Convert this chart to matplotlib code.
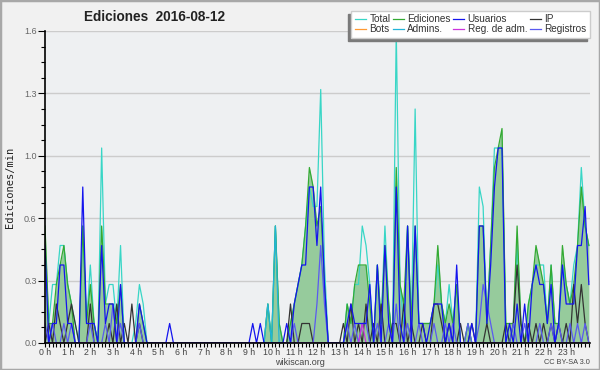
import matplotlib
matplotlib.use("Agg")
import matplotlib.pyplot as plt
from matplotlib.patches import Rectangle
from matplotlib.lines import Line2D
import numpy as np

plt.rcParams['font.family'] = ['Liberation Sans', 'DejaVu Sans']

# edits per 10-minute bin, 0 h .. 24 h (145 points)
ediciones = [6, 1, 1, 3, 4, 5,  3, 2, 0, 0, 6, 1,  3, 1, 0, 6, 2, 2,  2, 1, 3, 0, 0, 0,
             0, 2, 1, 0, 0, 0,  0, 0, 0, 0, 0, 0] + [0] * 18 + \
            [0, 0, 0, 0, 0, 2,  0, 6, 1, 0, 0, 1,  2, 3, 4, 6, 9, 8,  6, 7, 3, 0, 0, 0,
             0, 0, 2, 1, 3, 4,  4, 4, 2, 0, 4, 1,  5, 2, 0, 9, 3, 2,  6, 1, 6, 1, 1, 1,
             1, 2, 5, 2, 1, 2,  1, 3, 0, 0, 1, 0,  0, 6, 6, 1, 5, 9,  10, 11, 1, 1, 1, 6,
             1, 0, 2, 3, 5, 4,  3, 1, 4, 1, 1, 5,  3, 2, 3, 5, 8, 6,  5]
total = [5, 1, 3, 3, 5, 5,  3, 2, 1, 0, 6, 1,  4, 1, 0, 10, 2, 3,  3, 1, 5, 0, 0, 0,
         1, 3, 2, 0, 0, 0,  0, 0, 0, 0, 0, 0] + [0] * 18 + \
        [0, 0, 0, 0, 0, 2,  0, 6, 1, 0, 0, 1,  2, 3, 4, 6, 8, 7,  7, 13, 4, 0, 0, 0,
         0, 0, 2, 1, 3, 3,  6, 5, 3, 0, 4, 1,  6, 2, 0, 16, 3, 1,  6, 1, 12, 1, 1, 1,
         1, 2, 4, 2, 1, 3,  1, 3, 0, 0, 1, 0,  0, 8, 7, 1, 5, 10,  10, 10, 1, 0, 1, 5,
         1, 0, 2, 3, 4, 4,  4, 1, 4, 1, 1, 4,  3, 2, 4, 5, 9, 6,  5]
usuarios = [5, 0, 1, 1, 4, 4,  1, 1, 0, 0, 8, 1,  1, 1, 0, 5, 1, 2,  2, 0, 3, 0, 0, 0,
            0, 2, 1, 0, 0, 0,  0, 0, 0, 1, 0, 0] + [0] * 18 + \
           [0, 1, 0, 1, 0, 0,  0, 0, 0, 0, 1, 0,  2, 3, 4, 4, 8, 8,  5, 8, 3, 0, 0, 0,
            0, 0, 1, 2, 1, 1,  1, 1, 3, 0, 4, 0,  5, 1, 0, 8, 1, 0,  6, 0, 6, 1, 1, 0,
            1, 2, 2, 2, 0, 1,  0, 4, 0, 0, 0, 1,  0, 6, 6, 1, 4, 8,  10, 10, 0, 1, 0, 2,
            0, 2, 0, 3, 4, 3,  3, 1, 3, 0, 1, 4,  2, 2, 2, 5, 5, 7,  3]
ip = [0, 1, 0, 2, 1, 0,  1, 2, 1, 0, 0, 0,  2, 0, 0, 0, 0, 1,  0, 2, 0, 1, 0, 2,
      0, 1, 0, 0, 0, 0] + [0] * 30 + \
     [0, 0, 0, 0, 0, 2,  0, 0, 1, 1, 1, 0,  0, 0, 0, 0, 0, 0,
      0, 1, 0, 2, 0, 1,  0, 2, 0, 1, 0, 2,  0, 0, 1, 1, 0, 2,  0, 1, 0, 0, 1, 0,
      0, 2, 2, 1, 0, 1,  0, 0, 1, 0, 0, 1,  0, 0, 0, 1, 0, 0,  0, 0, 1, 0, 1, 4,
      1, 0, 1, 0, 1, 0,  1, 0, 1, 0, 1, 0,  1, 0, 3, 1, 3, 1,  0]
registros = [1, 0, 1, 0, 0, 1,  0, 1, 0, 0, 0, 0,  1, 0, 0, 0, 1, 0,  2, 0, 1, 0, 0, 0,
             0, 1, 0, 0, 0, 0] + [0] * 36 + \
            [1, 0, 0, 0, 0, 0,  2, 5, 2, 0, 0, 0,
             0, 0, 1, 0, 1, 0,  1, 1, 0, 0, 1, 0,  0, 1, 0, 2, 0, 0,  1, 0, 0, 1, 0, 0,
             0, 1, 0, 0, 1, 0,  1, 0, 0, 0, 1, 0,  0, 1, 3, 2, 1, 0,  0, 0, 0, 0, 1, 0,
             0, 1, 0, 0, 0, 1,  0, 0, 1, 0, 1, 0,  0, 1, 0, 1, 0, 1,  0]
admins = [0] * 145
admins[59] = 2
admins[61] = 6
reg_adm = [0] * 145
reg_adm[84] = 1

hours = np.arange(145) / 6.0
hour_labels = [f"{h} h" for h in range(24)]
y_ticks = [0, 0.32, 0.64, 0.96, 1.28, 1.6]
y_labels = ['0.0', '0.3', '0.6', '1.0', '1.3', '1.6']

colors = {
    'Total': '#38d6c6', 'Bots': '#ff9a33', 'Ediciones': '#33aa33',
    'Admins.': '#22b4d8', 'Usuarios': '#1414ee', 'Reg. de adm.': '#cc33dd',
    'IP': '#333333', 'Registros': '#5a5af0',
}

def rate(v):
    return np.array(v) / 10.0

fig = plt.figure(figsize=(6, 3.7), dpi=100, facecolor='#f1f1f1')
ax = fig.add_axes([45 / 600, 27 / 370, 545 / 600, 312 / 370])
ax.set_facecolor('#eef0f2')

lw = 0.9
ax.fill_between(hours, rate(ediciones), color='#96cb9c', lw=0, zorder=1)
ax.plot(hours, rate(total), color=colors['Total'], lw=lw, zorder=2)
ax.plot(hours, rate(ediciones), color=colors['Ediciones'], lw=lw, zorder=3)
ax.plot(hours, rate(admins), color=colors['Admins.'], lw=lw, zorder=3)
ax.plot(hours, rate(ip), color=colors['IP'], lw=lw, zorder=4)
ax.plot(hours, rate(registros), color=colors['Registros'], lw=lw, zorder=4)
ax.plot(hours, rate(reg_adm), color=colors['Reg. de adm.'], lw=lw, zorder=4)
ax.plot(hours, rate(usuarios), color=colors['Usuarios'], lw=lw, zorder=5)

ax.set_xlim(0, 24.05)
ax.set_ylim(0, 1.6)
ax.set_xticks(range(24))
ax.set_xticklabels(hour_labels)
ax.set_xticks(np.arange(0, 24.01, 1 / 6), minor=True)
ax.set_yticks(y_ticks)
ax.set_yticklabels(y_labels)
ax.set_yticks(np.arange(0, 1.61, 0.08), minor=True)
ax.tick_params(axis='x', which='both', length=3, width=0.8, labelsize=6.3,
               labelcolor='#444444', pad=0.5)
ax.tick_params(axis='y', which='major', length=5, width=0.8, labelsize=6.5,
               labelcolor='#666666', pad=1)
ax.tick_params(axis='y', which='minor', length=3, width=0.8)
ax.grid(axis='y', color='#cccccc', lw=1)
ax.set_axisbelow(True)
for s in ['top', 'right']:
    ax.spines[s].set_visible(False)
for s in ['left', 'bottom']:
    ax.spines[s].set_linewidth(1.2)
    ax.spines[s].set_zorder(6)

fig.text(154 / 600, 1 - 17 / 370, "Ediciones  2016-08-12", ha='center', va='center',
         fontsize=9.8, fontweight='bold', color='#222222')
fig.text(10 / 600, 1 - 187 / 370, "Ediciones/min", rotation=90, ha='center',
         va='center', fontsize=7.5, family='DejaVu Sans Mono', color='#222222')
fig.text(0.5, 1 - 362.5 / 370, "wikiscan.org", ha='center', va='center',
         fontsize=6.5, color='#444444')
fig.text(590 / 600, 1 - 362.5 / 370, "CC BY-SA 3.0", ha='right', va='center',
         fontsize=5.3, color='#444444')

order = ['Total', 'Bots', 'Ediciones', 'Admins.', 'Usuarios', 'Reg. de adm.', 'IP', 'Registros']
handles = [Line2D([], [], color=colors[k], lw=0.9) for k in order]
leg = fig.legend(handles, order, ncol=4, loc='upper right',
                 bbox_to_anchor=(590 / 600, 1 - 11 / 370), borderaxespad=0,
                 fontsize=7.2, handlelength=1.1, handletextpad=0.35, columnspacing=0.25,
                 labelspacing=0.0, borderpad=0.35, frameon=True, fancybox=False,
                 framealpha=1, edgecolor='#cccccc', facecolor='white')
leg.set_zorder(10)
for t in leg.get_texts():
    t.set_color('#333333')

fig.canvas.draw()
bb = leg.get_window_extent()
W, H = fig.bbox.width, fig.bbox.height
fig.patches.append(Rectangle(((bb.x0 - 3) / W, (bb.y0 - 3) / H), bb.width / W, bb.height / H,
                             transform=fig.transFigure, color='#7a7a7a', zorder=9))
fig.patches.append(Rectangle((0, 0), 1, 1, transform=fig.transFigure, fill=False,
                             edgecolor='#a8a8a8', lw=2.5, zorder=20))

fig.savefig("out.png", dpi=100, facecolor=fig.get_facecolor())
